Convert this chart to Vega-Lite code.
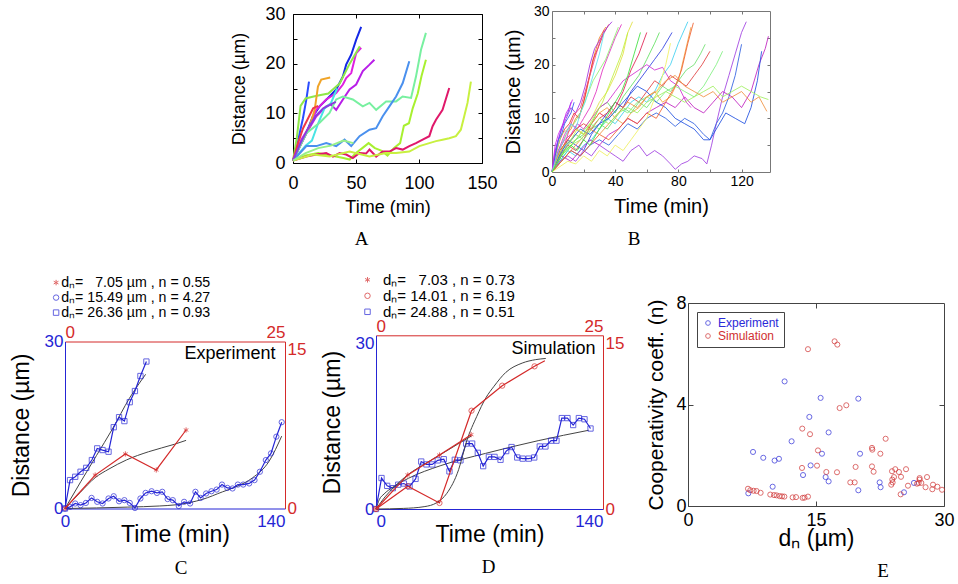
{
"$schema": "https://vega.github.io/schema/vega-lite/v6.json",
"background": "white",
"padding": {"left": 10, "top": 3, "right": 0, "bottom": 0},
"config": {
  "font": "Liberation Sans",
  "view": {"stroke": null},
  "axis": {"grid": false, "labelFont": "Liberation Sans", "titleFont": "Liberation Sans", "titleFontWeight": "normal", "labelColor": "black", "titleColor": "black", "tickColor": "black", "domainColor": "black"},
  "legend": {"labelFont": "Liberation Sans"},
  "title": {"font": "Liberation Serif", "fontWeight": "normal", "fontSize": 19, "color": "black"}
},
"datasets": {
"A": [
{"s":"a01","t":0,"d":0.5},{"s":"a01","t":6.6,"d":4},{"s":"a01","t":10.6,"d":6},{"s":"a01","t":15.8,"d":9.4},{"s":"a01","t":21.1,"d":11.4},{"s":"a01","t":29,"d":13.4},{"s":"a01","t":34.3,"d":14.8},{"s":"a01","t":39.6,"d":17.4},{"s":"a01","t":42.2,"d":19.8},{"s":"a01","t":46.2,"d":21.8},{"s":"a01","t":50.1,"d":24.8},{"s":"a01","t":54.1,"d":27.4},
{"s":"a02","t":0,"d":0.5},{"s":"a02","t":3,"d":3},{"s":"a02","t":5.3,"d":6},{"s":"a02","t":7.9,"d":9},{"s":"a02","t":10.6,"d":12.8},{"s":"a02","t":12.7,"d":16.4},
{"s":"a03","t":0,"d":0.5},{"s":"a03","t":6.6,"d":4.7},{"s":"a03","t":13.2,"d":7.4},{"s":"a03","t":18.5,"d":10.7},{"s":"a03","t":26.4,"d":12.8},{"s":"a03","t":34.3,"d":14.1},{"s":"a03","t":39.6,"d":15.8},{"s":"a03","t":42.2,"d":17.1},{"s":"a03","t":46.2,"d":18.1},{"s":"a03","t":50.1,"d":22.1},{"s":"a03","t":54.1,"d":23.2},
{"s":"a04","t":0,"d":0.5},{"s":"a04","t":3,"d":5},{"s":"a04","t":6,"d":11.5},{"s":"a04","t":10,"d":13},{"s":"a04","t":18,"d":13.5},{"s":"a04","t":28,"d":14},{"s":"a04","t":37,"d":16},{"s":"a04","t":45,"d":20},{"s":"a04","t":53,"d":23.5},
{"s":"a05","t":0,"d":0.5},{"s":"a05","t":10.6,"d":6},{"s":"a05","t":18.5,"d":9.4},{"s":"a05","t":26.4,"d":11.4},{"s":"a05","t":30,"d":11.8},{"s":"a05","t":34.3,"d":10.7},{"s":"a05","t":39.6,"d":12.8},{"s":"a05","t":44.9,"d":14.8},{"s":"a05","t":50.1,"d":15.8},{"s":"a05","t":55.4,"d":18.5},{"s":"a05","t":60.7,"d":19.8},{"s":"a05","t":64.6,"d":20.8},
{"s":"a06","t":0,"d":0.5},{"s":"a06","t":7.9,"d":4.7},{"s":"a06","t":13.2,"d":7.4},{"s":"a06","t":17.2,"d":10.7},{"s":"a06","t":19.8,"d":15.4},{"s":"a06","t":22.4,"d":16.8},{"s":"a06","t":29.5,"d":17.2},
{"s":"a07","t":0,"d":0.5},{"s":"a07","t":5,"d":2},{"s":"a07","t":10,"d":3.5},{"s":"a07","t":15,"d":4.5},{"s":"a07","t":20,"d":8},{"s":"a07","t":25,"d":11},{"s":"a07","t":30,"d":12},{"s":"a07","t":35,"d":15},
{"s":"a08","t":0,"d":0.5},{"s":"a08","t":10.6,"d":6},{"s":"a08","t":21.1,"d":8.1},{"s":"a08","t":29,"d":10.1},{"s":"a08","t":34.3,"d":12.8},{"s":"a08","t":39.6,"d":13.4},{"s":"a08","t":47.5,"d":12.8},{"s":"a08","t":55.4,"d":11.4},{"s":"a08","t":60.7,"d":12.1},{"s":"a08","t":66,"d":10.7},{"s":"a08","t":73.9,"d":12.4},{"s":"a08","t":81.8,"d":12.4},{"s":"a08","t":87,"d":13.4},{"s":"a08","t":93.7,"d":13.1},{"s":"a08","t":97.6,"d":17.4},{"s":"a08","t":101.6,"d":22.8},{"s":"a08","t":105.5,"d":26.2},
{"s":"a09","t":0,"d":0.5},{"s":"a09","t":10.6,"d":3.4},{"s":"a09","t":18.5,"d":3.4},{"s":"a09","t":26.4,"d":4},{"s":"a09","t":34.3,"d":3.4},{"s":"a09","t":40.9,"d":4.7},{"s":"a09","t":46.2,"d":3.4},{"s":"a09","t":52.8,"d":5.4},{"s":"a09","t":60.7,"d":6.7},{"s":"a09","t":66,"d":7},{"s":"a09","t":71.2,"d":9.4},{"s":"a09","t":76.5,"d":11.4},{"s":"a09","t":81.8,"d":13.4},{"s":"a09","t":87.1,"d":16.1},{"s":"a09","t":92.3,"d":20.5},
{"s":"a10","t":0,"d":0.5},{"s":"a10","t":10,"d":1.5},{"s":"a10","t":20,"d":2},{"s":"a10","t":30,"d":1.5},{"s":"a10","t":40,"d":1},{"s":"a10","t":45,"d":0.7},{"s":"a10","t":50,"d":2},{"s":"a10","t":55,"d":3},{"s":"a10","t":60,"d":4},{"s":"a10","t":65,"d":3},{"s":"a10","t":70,"d":2.5},{"s":"a10","t":75,"d":1.5},{"s":"a10","t":80,"d":3},{"s":"a10","t":85,"d":4},{"s":"a10","t":88,"d":7.5},{"s":"a10","t":92,"d":8},{"s":"a10","t":95,"d":11},{"s":"a10","t":99,"d":14},{"s":"a10","t":102,"d":17.5},{"s":"a10","t":105.5,"d":20.8},
{"s":"a11","t":0,"d":0.5},{"s":"a11","t":10.6,"d":1.3},{"s":"a11","t":18.5,"d":1.7},{"s":"a11","t":26.4,"d":2},{"s":"a11","t":31.7,"d":1.3},{"s":"a11","t":37,"d":2},{"s":"a11","t":42.2,"d":1.7},{"s":"a11","t":47.5,"d":1},{"s":"a11","t":52.8,"d":2},{"s":"a11","t":58,"d":1.9},{"s":"a11","t":60.7,"d":2.7},{"s":"a11","t":66,"d":1.3},{"s":"a11","t":71.2,"d":2.3},{"s":"a11","t":76.5,"d":2.3},{"s":"a11","t":81.8,"d":3},{"s":"a11","t":87.1,"d":2.7},{"s":"a11","t":92.3,"d":3.4},{"s":"a11","t":97.6,"d":4},{"s":"a11","t":102.9,"d":4.7},{"s":"a11","t":108.2,"d":5.4},{"s":"a11","t":110.8,"d":7.4},{"s":"a11","t":113.5,"d":8.7},{"s":"a11","t":118.7,"d":10.7},{"s":"a11","t":124,"d":15.1},
{"s":"a12","t":0,"d":0.5},{"s":"a12","t":15.8,"d":1.7},{"s":"a12","t":29,"d":1.3},{"s":"a12","t":44.9,"d":2.3},{"s":"a12","t":60.7,"d":1.3},{"s":"a12","t":73.9,"d":2},{"s":"a12","t":81.8,"d":2},{"s":"a12","t":92.3,"d":2.3},{"s":"a12","t":100.3,"d":3.4},{"s":"a12","t":108.2,"d":4},{"s":"a12","t":113.5,"d":4.4},{"s":"a12","t":118.7,"d":4.7},{"s":"a12","t":124,"d":5},{"s":"a12","t":129.3,"d":5.4},{"s":"a12","t":133.2,"d":6.7},{"s":"a12","t":135.9,"d":9.4},{"s":"a12","t":138.5,"d":12.1},{"s":"a12","t":141.2,"d":16.4},
{"s":"a13","t":0,"d":0.5},{"s":"a13","t":4,"d":4},{"s":"a13","t":8,"d":7},{"s":"a13","t":12,"d":9},{"s":"a13","t":16,"d":11},{"s":"a13","t":20,"d":11.5},
{"s":"a14","t":0,"d":0.5},{"s":"a14","t":6,"d":4},{"s":"a14","t":12,"d":7},{"s":"a14","t":18,"d":9.5},{"s":"a14","t":24,"d":11},{"s":"a14","t":30,"d":11.8},{"s":"a14","t":34,"d":12.3},
{"s":"a15","t":0,"d":0.5},{"s":"a15","t":10,"d":2},{"s":"a15","t":20,"d":3},{"s":"a15","t":30,"d":3.5},{"s":"a15","t":40,"d":4.5},{"s":"a15","t":48,"d":4}
],
"B": [
{"s":"b01","t":0,"d":0},{"s":"b01","t":3,"d":3},{"s":"b01","t":6,"d":5},{"s":"b01","t":9,"d":7},{"s":"b01","t":12,"d":8},{"s":"b01","t":15,"d":10},{"s":"b01","t":18,"d":11},{"s":"b01","t":21,"d":14},{"s":"b01","t":24,"d":18},{"s":"b01","t":27,"d":22},{"s":"b01","t":30,"d":25},{"s":"b01","t":34,"d":27},
{"s":"b02","t":0,"d":0},{"s":"b02","t":2,"d":3},{"s":"b02","t":5,"d":6},{"s":"b02","t":8,"d":8},{"s":"b02","t":11,"d":9},{"s":"b02","t":14,"d":11},{"s":"b02","t":17,"d":10},{"s":"b02","t":20,"d":13},{"s":"b02","t":23,"d":17},{"s":"b02","t":26,"d":21},{"s":"b02","t":29,"d":23},{"s":"b02","t":33,"d":26},{"s":"b02","t":36,"d":27.5},
{"s":"b03","t":0,"d":0},{"s":"b03","t":3,"d":5},{"s":"b03","t":6,"d":8},{"s":"b03","t":9,"d":10},{"s":"b03","t":12,"d":12},{"s":"b03","t":15,"d":11},{"s":"b03","t":18,"d":13},{"s":"b03","t":21,"d":16},{"s":"b03","t":24,"d":20},{"s":"b03","t":27,"d":23},{"s":"b03","t":31,"d":25},{"s":"b03","t":35,"d":27},{"s":"b03","t":38,"d":28},
{"s":"b04","t":0,"d":0},{"s":"b04","t":4,"d":4},{"s":"b04","t":8,"d":7},{"s":"b04","t":12,"d":9},{"s":"b04","t":16,"d":8},{"s":"b04","t":20,"d":10},{"s":"b04","t":24,"d":12},{"s":"b04","t":28,"d":15},{"s":"b04","t":32,"d":19},{"s":"b04","t":36,"d":22},{"s":"b04","t":40,"d":25},{"s":"b04","t":44,"d":27.5},
{"s":"b05","t":0,"d":0},{"s":"b05","t":3,"d":2},{"s":"b05","t":6,"d":4},{"s":"b05","t":9,"d":6},{"s":"b05","t":12,"d":9},{"s":"b05","t":15,"d":11},{"s":"b05","t":18,"d":12},{"s":"b05","t":21,"d":15},{"s":"b05","t":24,"d":18},{"s":"b05","t":27,"d":21},{"s":"b05","t":30,"d":24},{"s":"b05","t":33,"d":26.5},
{"s":"b06","t":0,"d":0},{"s":"b06","t":3,"d":4},{"s":"b06","t":6,"d":7},{"s":"b06","t":10,"d":8},{"s":"b06","t":14,"d":9},{"s":"b06","t":18,"d":11},{"s":"b06","t":22,"d":14},{"s":"b06","t":26,"d":17},{"s":"b06","t":30,"d":19},{"s":"b06","t":34,"d":21},{"s":"b06","t":38,"d":24},{"s":"b06","t":42,"d":27},
{"s":"b07","t":0,"d":0},{"s":"b07","t":5,"d":3},{"s":"b07","t":10,"d":5},{"s":"b07","t":15,"d":6},{"s":"b07","t":20,"d":8},{"s":"b07","t":25,"d":10},{"s":"b07","t":30,"d":13},{"s":"b07","t":35,"d":15},{"s":"b07","t":40,"d":18},{"s":"b07","t":45,"d":22},{"s":"b07","t":48,"d":26},{"s":"b07","t":51,"d":28},
{"s":"b08","t":0,"d":0},{"s":"b08","t":2,"d":3},{"s":"b08","t":4,"d":6},{"s":"b08","t":6,"d":7},{"s":"b08","t":8,"d":9},{"s":"b08","t":10,"d":10},{"s":"b08","t":12,"d":11},{"s":"b08","t":14,"d":13},
{"s":"b09","t":0,"d":0},{"s":"b09","t":2,"d":4},{"s":"b09","t":4,"d":6},{"s":"b09","t":6,"d":8},{"s":"b09","t":8,"d":10},{"s":"b09","t":10,"d":11},{"s":"b09","t":12,"d":13},
{"s":"b10","t":0,"d":0},{"s":"b10","t":2,"d":5},{"s":"b10","t":4,"d":7},{"s":"b10","t":7,"d":9},{"s":"b10","t":9,"d":11},{"s":"b10","t":11,"d":12},{"s":"b10","t":13,"d":13.5},
{"s":"b11","t":0,"d":0},{"s":"b11","t":5,"d":3},{"s":"b11","t":10,"d":5},{"s":"b11","t":15,"d":4},{"s":"b11","t":20,"d":6},{"s":"b11","t":25,"d":9},{"s":"b11","t":30,"d":11},{"s":"b11","t":35,"d":10},{"s":"b11","t":40,"d":12},{"s":"b11","t":45,"d":15},{"s":"b11","t":50,"d":19},{"s":"b11","t":55,"d":22},{"s":"b11","t":60,"d":26},
{"s":"b12","t":0,"d":0},{"s":"b12","t":5,"d":2},{"s":"b12","t":10,"d":4},{"s":"b12","t":15,"d":6},{"s":"b12","t":20,"d":7},{"s":"b12","t":25,"d":9},{"s":"b12","t":30,"d":12},{"s":"b12","t":35,"d":13},{"s":"b12","t":40,"d":11},{"s":"b12","t":45,"d":14},{"s":"b12","t":50,"d":16},{"s":"b12","t":55,"d":18},{"s":"b12","t":60,"d":21},{"s":"b12","t":65,"d":24},{"s":"b12","t":68,"d":26},
{"s":"b13","t":0,"d":0},{"s":"b13","t":5,"d":3},{"s":"b13","t":10,"d":6},{"s":"b13","t":15,"d":5},{"s":"b13","t":20,"d":4},{"s":"b13","t":25,"d":7},{"s":"b13","t":30,"d":9},{"s":"b13","t":35,"d":11},{"s":"b13","t":40,"d":13},{"s":"b13","t":45,"d":12},{"s":"b13","t":50,"d":15},{"s":"b13","t":55,"d":17},{"s":"b13","t":60,"d":19},{"s":"b13","t":65,"d":21},{"s":"b13","t":70,"d":23},{"s":"b13","t":76,"d":26},
{"s":"b14","t":0,"d":0},{"s":"b14","t":5,"d":2},{"s":"b14","t":10,"d":4},{"s":"b14","t":15,"d":3},{"s":"b14","t":20,"d":5},{"s":"b14","t":25,"d":6},{"s":"b14","t":30,"d":8},{"s":"b14","t":35,"d":10},{"s":"b14","t":40,"d":9},{"s":"b14","t":45,"d":11},{"s":"b14","t":50,"d":13},{"s":"b14","t":55,"d":14},{"s":"b14","t":60,"d":13},{"s":"b14","t":65,"d":15},{"s":"b14","t":70,"d":18},{"s":"b14","t":75,"d":20},{"s":"b14","t":80,"d":24},{"s":"b14","t":86,"d":28},
{"s":"b15","t":0,"d":0},{"s":"b15","t":5,"d":4},{"s":"b15","t":10,"d":6},{"s":"b15","t":15,"d":8},{"s":"b15","t":20,"d":7},{"s":"b15","t":25,"d":9},{"s":"b15","t":30,"d":11},{"s":"b15","t":35,"d":12},{"s":"b15","t":40,"d":10},{"s":"b15","t":45,"d":9},{"s":"b15","t":50,"d":11},{"s":"b15","t":55,"d":12},{"s":"b15","t":60,"d":14},{"s":"b15","t":65,"d":15},{"s":"b15","t":70,"d":13},{"s":"b15","t":75,"d":14},{"s":"b15","t":80,"d":17},{"s":"b15","t":84,"d":22},{"s":"b15","t":88,"d":27},
{"s":"b16","t":0,"d":0},{"s":"b16","t":4,"d":4},{"s":"b16","t":8,"d":6},{"s":"b16","t":12,"d":7},{"s":"b16","t":16,"d":9},{"s":"b16","t":20,"d":8},{"s":"b16","t":25,"d":10},{"s":"b16","t":30,"d":12},{"s":"b16","t":35,"d":13},{"s":"b16","t":40,"d":15},{"s":"b16","t":45,"d":17},{"s":"b16","t":50,"d":18},{"s":"b16","t":55,"d":19},{"s":"b16","t":60,"d":20},{"s":"b16","t":65,"d":19},{"s":"b16","t":70,"d":19.5},{"s":"b16","t":75,"d":17},{"s":"b16","t":80,"d":16},{"s":"b16","t":85,"d":13},{"s":"b16","t":88,"d":12},
{"s":"b17","t":0,"d":0},{"s":"b17","t":5,"d":2},{"s":"b17","t":10,"d":3},{"s":"b17","t":15,"d":2},{"s":"b17","t":20,"d":4},{"s":"b17","t":25,"d":3},{"s":"b17","t":30,"d":5},{"s":"b17","t":35,"d":4},{"s":"b17","t":40,"d":3},{"s":"b17","t":45,"d":2},{"s":"b17","t":50,"d":4},{"s":"b17","t":55,"d":5},{"s":"b17","t":60,"d":3},{"s":"b17","t":65,"d":4},{"s":"b17","t":70,"d":3},{"s":"b17","t":75,"d":1.5},{"s":"b17","t":78,"d":0.5},{"s":"b17","t":82,"d":1.5},{"s":"b17","t":86,"d":2},{"s":"b17","t":90,"d":3},{"s":"b17","t":95,"d":2.5},{"s":"b17","t":98,"d":1.5},{"s":"b17","t":101,"d":5},{"s":"b17","t":104,"d":9},{"s":"b17","t":108,"d":14},{"s":"b17","t":112,"d":18},{"s":"b17","t":116,"d":22},{"s":"b17","t":120,"d":26},{"s":"b17","t":123,"d":28},
{"s":"b18","t":0,"d":0},{"s":"b18","t":5,"d":3},{"s":"b18","t":10,"d":5},{"s":"b18","t":15,"d":7},{"s":"b18","t":20,"d":6},{"s":"b18","t":25,"d":8},{"s":"b18","t":30,"d":9},{"s":"b18","t":35,"d":8},{"s":"b18","t":40,"d":10},{"s":"b18","t":45,"d":12},{"s":"b18","t":50,"d":11},{"s":"b18","t":55,"d":13},{"s":"b18","t":60,"d":12},{"s":"b18","t":65,"d":14},{"s":"b18","t":70,"d":16},{"s":"b18","t":75,"d":15},{"s":"b18","t":80,"d":17},{"s":"b18","t":85,"d":19},{"s":"b18","t":90,"d":20},{"s":"b18","t":94,"d":22},{"s":"b18","t":97,"d":23.8},
{"s":"b19","t":0,"d":0},{"s":"b19","t":5,"d":4},{"s":"b19","t":10,"d":6},{"s":"b19","t":15,"d":8},{"s":"b19","t":20,"d":9},{"s":"b19","t":25,"d":8},{"s":"b19","t":30,"d":10},{"s":"b19","t":35,"d":11},{"s":"b19","t":40,"d":13},{"s":"b19","t":45,"d":12},{"s":"b19","t":50,"d":14},{"s":"b19","t":55,"d":13},{"s":"b19","t":60,"d":15},{"s":"b19","t":65,"d":17},{"s":"b19","t":70,"d":16},{"s":"b19","t":75,"d":18},{"s":"b19","t":80,"d":17},{"s":"b19","t":85,"d":16},{"s":"b19","t":90,"d":18},{"s":"b19","t":95,"d":20},{"s":"b19","t":100,"d":22.5},
{"s":"b20","t":0,"d":0},{"s":"b20","t":6,"d":3},{"s":"b20","t":12,"d":5},{"s":"b20","t":18,"d":7},{"s":"b20","t":24,"d":9},{"s":"b20","t":30,"d":8},{"s":"b20","t":36,"d":10},{"s":"b20","t":42,"d":12},{"s":"b20","t":48,"d":11},{"s":"b20","t":54,"d":13},{"s":"b20","t":60,"d":14},{"s":"b20","t":66,"d":13},{"s":"b20","t":72,"d":15},{"s":"b20","t":78,"d":16},{"s":"b20","t":84,"d":15},{"s":"b20","t":90,"d":14},{"s":"b20","t":96,"d":16},{"s":"b20","t":100,"d":18},{"s":"b20","t":104,"d":20},{"s":"b20","t":108,"d":22.5},
{"s":"b21","t":0,"d":0},{"s":"b21","t":6,"d":2},{"s":"b21","t":12,"d":4},{"s":"b21","t":18,"d":3},{"s":"b21","t":24,"d":5},{"s":"b21","t":30,"d":6},{"s":"b21","t":36,"d":5},{"s":"b21","t":42,"d":7},{"s":"b21","t":48,"d":9},{"s":"b21","t":54,"d":8},{"s":"b21","t":60,"d":10},{"s":"b21","t":66,"d":11},{"s":"b21","t":72,"d":10},{"s":"b21","t":78,"d":8.5},{"s":"b21","t":84,"d":10},{"s":"b21","t":90,"d":9},{"s":"b21","t":96,"d":7},{"s":"b21","t":100,"d":6},{"s":"b21","t":104,"d":9},{"s":"b21","t":108,"d":11},{"s":"b21","t":112,"d":14},{"s":"b21","t":116,"d":18},{"s":"b21","t":120,"d":23.8},
{"s":"b22","t":0,"d":0},{"s":"b22","t":6,"d":3},{"s":"b22","t":12,"d":2},{"s":"b22","t":18,"d":4},{"s":"b22","t":24,"d":6},{"s":"b22","t":30,"d":5},{"s":"b22","t":36,"d":7},{"s":"b22","t":42,"d":8},{"s":"b22","t":48,"d":10},{"s":"b22","t":54,"d":9},{"s":"b22","t":60,"d":11},{"s":"b22","t":66,"d":12},{"s":"b22","t":72,"d":13},{"s":"b22","t":78,"d":12},{"s":"b22","t":84,"d":14},{"s":"b22","t":90,"d":12},{"s":"b22","t":96,"d":11},{"s":"b22","t":102,"d":13},{"s":"b22","t":108,"d":15},{"s":"b22","t":114,"d":14},{"s":"b22","t":120,"d":12},{"s":"b22","t":126,"d":15},{"s":"b22","t":131,"d":20},{"s":"b22","t":135,"d":23},{"s":"b22","t":137,"d":25.3},
{"s":"b23","t":0,"d":0},{"s":"b23","t":6,"d":4},{"s":"b23","t":12,"d":6},{"s":"b23","t":18,"d":8},{"s":"b23","t":24,"d":7},{"s":"b23","t":30,"d":9},{"s":"b23","t":36,"d":10},{"s":"b23","t":42,"d":12},{"s":"b23","t":48,"d":14},{"s":"b23","t":54,"d":16},{"s":"b23","t":60,"d":15},{"s":"b23","t":66,"d":13},{"s":"b23","t":72,"d":12},{"s":"b23","t":78,"d":10},{"s":"b23","t":84,"d":9},{"s":"b23","t":90,"d":8},{"s":"b23","t":96,"d":6},{"s":"b23","t":100,"d":6},{"s":"b23","t":104,"d":8},{"s":"b23","t":110,"d":11},{"s":"b23","t":116,"d":10},{"s":"b23","t":122,"d":9},{"s":"b23","t":126,"d":12},{"s":"b23","t":130,"d":17},{"s":"b23","t":132.7,"d":22.5},
{"s":"b24","t":0,"d":0},{"s":"b24","t":6,"d":2},{"s":"b24","t":12,"d":4},{"s":"b24","t":18,"d":6},{"s":"b24","t":24,"d":8},{"s":"b24","t":30,"d":7},{"s":"b24","t":36,"d":9},{"s":"b24","t":42,"d":11},{"s":"b24","t":48,"d":13},{"s":"b24","t":54,"d":12},{"s":"b24","t":60,"d":14},{"s":"b24","t":66,"d":15},{"s":"b24","t":72,"d":17},{"s":"b24","t":78,"d":18},{"s":"b24","t":84,"d":16},{"s":"b24","t":90,"d":15},{"s":"b24","t":96,"d":14},{"s":"b24","t":102,"d":15},{"s":"b24","t":108,"d":13},{"s":"b24","t":114,"d":14},{"s":"b24","t":120,"d":15},{"s":"b24","t":126,"d":13},{"s":"b24","t":131,"d":14},{"s":"b24","t":136,"d":11.3},
{"s":"b25","t":0,"d":0},{"s":"b25","t":6,"d":3},{"s":"b25","t":12,"d":5},{"s":"b25","t":18,"d":6},{"s":"b25","t":24,"d":8},{"s":"b25","t":30,"d":10},{"s":"b25","t":36,"d":9},{"s":"b25","t":42,"d":11},{"s":"b25","t":48,"d":12},{"s":"b25","t":54,"d":11},{"s":"b25","t":60,"d":13},{"s":"b25","t":66,"d":14},{"s":"b25","t":72,"d":15},{"s":"b25","t":78,"d":14},{"s":"b25","t":84,"d":13},{"s":"b25","t":90,"d":14},{"s":"b25","t":96,"d":15},{"s":"b25","t":102,"d":16},{"s":"b25","t":108,"d":14},{"s":"b25","t":114,"d":15},{"s":"b25","t":120,"d":16},{"s":"b25","t":126,"d":15},{"s":"b25","t":132,"d":14},{"s":"b25","t":137,"d":13.5},
{"s":"b26","t":0,"d":0},{"s":"b26","t":4,"d":3},{"s":"b26","t":8,"d":5},{"s":"b26","t":12,"d":6},{"s":"b26","t":16,"d":8},{"s":"b26","t":20,"d":7},{"s":"b26","t":24,"d":9},{"s":"b26","t":28,"d":11},{"s":"b26","t":32,"d":13},{"s":"b26","t":36,"d":16},{"s":"b26","t":40,"d":19},{"s":"b26","t":44,"d":22},{"s":"b26","t":48,"d":26},
{"s":"b27","t":0,"d":0},{"s":"b27","t":3,"d":3},{"s":"b27","t":6,"d":5},{"s":"b27","t":9,"d":7},{"s":"b27","t":12,"d":9},{"s":"b27","t":15,"d":8},{"s":"b27","t":18,"d":11},{"s":"b27","t":21,"d":13},{"s":"b27","t":24,"d":16},{"s":"b27","t":27,"d":19},{"s":"b27","t":30,"d":22},{"s":"b27","t":33,"d":26},
{"s":"b28","t":0,"d":0},{"s":"b28","t":6,"d":2},{"s":"b28","t":12,"d":4},{"s":"b28","t":18,"d":3},{"s":"b28","t":24,"d":5},{"s":"b28","t":30,"d":7},{"s":"b28","t":36,"d":6},{"s":"b28","t":42,"d":8},{"s":"b28","t":48,"d":10},{"s":"b28","t":54,"d":9},{"s":"b28","t":60,"d":11},{"s":"b28","t":66,"d":10},{"s":"b28","t":72,"d":13},{"s":"b28","t":78,"d":16},{"s":"b28","t":82,"d":19},{"s":"b28","t":86,"d":24},{"s":"b28","t":89.5,"d":27.8},
{"s":"b29","t":0,"d":0},{"s":"b29","t":5,"d":1},{"s":"b29","t":10,"d":2},{"s":"b29","t":15,"d":1.5},{"s":"b29","t":20,"d":3},{"s":"b29","t":25,"d":2},{"s":"b29","t":30,"d":4},{"s":"b29","t":35,"d":3},{"s":"b29","t":40,"d":5},{"s":"b29","t":45,"d":4},{"s":"b29","t":50,"d":6},{"s":"b29","t":55,"d":8},{"s":"b29","t":60,"d":10},{"s":"b29","t":64,"d":13},{"s":"b29","t":68,"d":16},{"s":"b29","t":72,"d":20},{"s":"b29","t":75,"d":24},
{"s":"b30","t":0,"d":0},{"s":"b30","t":4,"d":2},{"s":"b30","t":8,"d":4},{"s":"b30","t":12,"d":5},{"s":"b30","t":16,"d":4},{"s":"b30","t":20,"d":6},{"s":"b30","t":24,"d":5},{"s":"b30","t":28,"d":7},{"s":"b30","t":32,"d":9},{"s":"b30","t":36,"d":11},{"s":"b30","t":40,"d":13},{"s":"b30","t":44,"d":15},{"s":"b30","t":48,"d":18},{"s":"b30","t":52,"d":22},{"s":"b30","t":56,"d":26}
],
"Cb": [
{"s":"sq","k":"obs","t":0,"d":0},{"s":"sq","k":"obs","t":3.2,"d":5.1},{"s":"sq","k":"obs","t":6.5,"d":5.7},{"s":"sq","k":"obs","t":9.9,"d":6.6},{"s":"sq","k":"obs","t":13.5,"d":7.3},{"s":"sq","k":"obs","t":17.1,"d":8.7},{"s":"sq","k":"obs","t":20.5,"d":10.8},{"s":"sq","k":"obs","t":23.9,"d":10.5},{"s":"sq","k":"obs","t":27.7,"d":10.2},{"s":"sq","k":"obs","t":31.0,"d":14.6},{"s":"sq","k":"obs","t":34.4,"d":16.4},{"s":"sq","k":"obs","t":37.8,"d":15.7},{"s":"sq","k":"obs","t":41.2,"d":19.1},{"s":"sq","k":"obs","t":44.5,"d":21.1},{"s":"sq","k":"obs","t":48.0,"d":23.8},{"s":"sq","k":"obs","t":51.8,"d":26.4},
{"s":"sq","k":"fit","t":0,"d":0},{"s":"sq","k":"fit","t":10,"d":4.8},{"s":"sq","k":"fit","t":20,"d":9.5},{"s":"sq","k":"fit","t":30,"d":14.2},{"s":"sq","k":"fit","t":41,"d":19.8},{"s":"sq","k":"fit","t":51.3,"d":24.1},
{"s":"circ","k":"obs","t":0,"d":0},{"s":"circ","k":"obs","t":3.2,"d":0.3},{"s":"circ","k":"obs","t":6.5,"d":0.9},{"s":"circ","k":"obs","t":9.9,"d":0.6},{"s":"circ","k":"obs","t":13.3,"d":1.0},{"s":"circ","k":"obs","t":16.9,"d":1.9},{"s":"circ","k":"obs","t":20.5,"d":1.2},{"s":"circ","k":"obs","t":23.9,"d":0.9},{"s":"circ","k":"obs","t":27.7,"d":1.8},{"s":"circ","k":"obs","t":31.0,"d":2.2},{"s":"circ","k":"obs","t":34.4,"d":1.3},{"s":"circ","k":"obs","t":37.8,"d":1.5},{"s":"circ","k":"obs","t":41.2,"d":1.0},{"s":"circ","k":"obs","t":44.5,"d":0.1},{"s":"circ","k":"obs","t":48.0,"d":1.8},{"s":"circ","k":"obs","t":51.3,"d":2.8},{"s":"circ","k":"obs","t":55.1,"d":3.1},{"s":"circ","k":"obs","t":58.5,"d":2.8},{"s":"circ","k":"obs","t":61.9,"d":3.0},{"s":"circ","k":"obs","t":65.3,"d":1.7},{"s":"circ","k":"obs","t":68.6,"d":1.5},{"s":"circ","k":"obs","t":72.4,"d":0.45},{"s":"circ","k":"obs","t":75.8,"d":1.2},{"s":"circ","k":"obs","t":79.6,"d":0.9},{"s":"circ","k":"obs","t":83.0,"d":3.0},{"s":"circ","k":"obs","t":86.3,"d":1.9},{"s":"circ","k":"obs","t":89.8,"d":2.7},{"s":"circ","k":"obs","t":93.2,"d":3.1},{"s":"circ","k":"obs","t":96.5,"d":3.4},{"s":"circ","k":"obs","t":99.9,"d":4.3},{"s":"circ","k":"obs","t":103.3,"d":3.7},{"s":"circ","k":"obs","t":106.6,"d":3.6},{"s":"circ","k":"obs","t":110.0,"d":4.3},{"s":"circ","k":"obs","t":113.4,"d":4.3},{"s":"circ","k":"obs","t":117.2,"d":4.5},{"s":"circ","k":"obs","t":120.6,"d":5.1},{"s":"circ","k":"obs","t":124.0,"d":6.6},{"s":"circ","k":"obs","t":127.8,"d":8.7},{"s":"circ","k":"obs","t":131.1,"d":9.9},{"s":"circ","k":"obs","t":134.5,"d":12.9},{"s":"circ","k":"obs","t":137.9,"d":15.5},
{"s":"circ","k":"fit","t":0,"d":0},{"s":"circ","k":"fit","t":20,"d":0.1},{"s":"circ","k":"fit","t":40,"d":0.25},{"s":"circ","k":"fit","t":60,"d":0.45},{"s":"circ","k":"fit","t":70,"d":0.65},{"s":"circ","k":"fit","t":80,"d":1.1},{"s":"circ","k":"fit","t":87.6,"d":1.65},{"s":"circ","k":"fit","t":100.3,"d":3.0},{"s":"circ","k":"fit","t":108.8,"d":3.9},{"s":"circ","k":"fit","t":119.3,"d":5.5},{"s":"circ","k":"fit","t":129.9,"d":8.5},{"s":"circ","k":"fit","t":137.9,"d":13.0}
],
"Cr": [
{"s":"star","k":"obs","t":0,"d":0},{"s":"star","k":"obs","t":3.43,"d":3.0},{"s":"star","k":"obs","t":6.86,"d":4.9},{"s":"star","k":"obs","t":10.37,"d":3.46},{"s":"star","k":"obs","t":13.76,"d":7.05},
{"s":"star","k":"fit","t":0,"d":0},{"s":"star","k":"fit","t":1.7,"d":1.42},{"s":"star","k":"fit","t":3.43,"d":2.77},{"s":"star","k":"fit","t":5,"d":3.55},{"s":"star","k":"fit","t":6.98,"d":4.36},{"s":"star","k":"fit","t":9.5,"d":5.1},{"s":"star","k":"fit","t":12.44,"d":5.77},{"s":"star","k":"fit","t":13.76,"d":6.12}
],
"Db": [
{"s":"sq","k":"obs","t":0,"d":0},{"s":"sq","k":"obs","t":3.4,"d":5.35},{"s":"sq","k":"obs","t":6.9,"d":4.0},{"s":"sq","k":"obs","t":10.4,"d":3.6},{"s":"sq","k":"obs","t":13.7,"d":4.2},{"s":"sq","k":"obs","t":17.2,"d":4.4},{"s":"sq","k":"obs","t":20.7,"d":3.9},{"s":"sq","k":"obs","t":24.4,"d":5.2},{"s":"sq","k":"obs","t":27.9,"d":8.2},{"s":"sq","k":"obs","t":31.1,"d":7.7},{"s":"sq","k":"obs","t":34.7,"d":7.7},{"s":"sq","k":"obs","t":38.1,"d":8.4},{"s":"sq","k":"obs","t":41.8,"d":8.6},{"s":"sq","k":"obs","t":45.3,"d":6.5},{"s":"sq","k":"obs","t":48.6,"d":8.5},{"s":"sq","k":"obs","t":52.1,"d":8.4},{"s":"sq","k":"obs","t":55.6,"d":11.3},{"s":"sq","k":"obs","t":59.3,"d":11.3},{"s":"sq","k":"obs","t":62.8,"d":9.7},{"s":"sq","k":"obs","t":66.1,"d":7.4},{"s":"sq","k":"obs","t":69.6,"d":9.0},{"s":"sq","k":"obs","t":73.1,"d":9.0},{"s":"sq","k":"obs","t":76.8,"d":8.5},{"s":"sq","k":"obs","t":80.3,"d":10.0},{"s":"sq","k":"obs","t":83.6,"d":10.7},{"s":"sq","k":"obs","t":87.1,"d":8.9},{"s":"sq","k":"obs","t":90.5,"d":8.7},{"s":"sq","k":"obs","t":94.2,"d":8.7},{"s":"sq","k":"obs","t":97.6,"d":8.9},{"s":"sq","k":"obs","t":101.0,"d":10.8},{"s":"sq","k":"obs","t":104.5,"d":10.8},{"s":"sq","k":"obs","t":108.0,"d":11.8},{"s":"sq","k":"obs","t":111.3,"d":11.8},{"s":"sq","k":"obs","t":114.6,"d":15.7},{"s":"sq","k":"obs","t":118.1,"d":15.7},{"s":"sq","k":"obs","t":121.6,"d":14.5},{"s":"sq","k":"obs","t":125.1,"d":15.7},{"s":"sq","k":"obs","t":128.6,"d":15.5},{"s":"sq","k":"obs","t":132.3,"d":13.9},
{"s":"sq","k":"fit","t":0,"d":0},{"s":"sq","k":"fit","t":2,"d":1.6},{"s":"sq","k":"fit","t":5,"d":2.6},{"s":"sq","k":"fit","t":10,"d":3.7},{"s":"sq","k":"fit","t":20,"d":5.3},{"s":"sq","k":"fit","t":40,"d":7.5},{"s":"sq","k":"fit","t":67.5,"d":9.6},{"s":"sq","k":"fit","t":100,"d":11.8},{"s":"sq","k":"fit","t":131.2,"d":13.6}
],
"Dr": [
{"s":"star","k":"obs","t":0,"d":0},{"s":"star","k":"obs","t":3.5,"d":2.94},{"s":"star","k":"obs","t":6.99,"d":4.66},{"s":"star","k":"obs","t":10.48,"d":6.42},
{"s":"star","k":"fit","t":0,"d":0},{"s":"star","k":"fit","t":1,"d":1.05},{"s":"star","k":"fit","t":2,"d":1.9},{"s":"star","k":"fit","t":3.5,"d":2.95},{"s":"star","k":"fit","t":5.5,"d":3.95},{"s":"star","k":"fit","t":7,"d":4.65},{"s":"star","k":"fit","t":9,"d":5.6},{"s":"star","k":"fit","t":10.5,"d":6.3},
{"s":"circ","k":"obs","t":0,"d":0},{"s":"circ","k":"obs","t":3.5,"d":1.96},{"s":"circ","k":"obs","t":6.99,"d":0.52},{"s":"circ","k":"obs","t":10.52,"d":8.49},{"s":"circ","k":"obs","t":13.9,"d":10.65},{"s":"circ","k":"obs","t":17.46,"d":12.32},{"s":"circ","k":"end","t":18.6,"d":12.8},
{"s":"circ","k":"fit","t":0,"d":0},{"s":"circ","k":"fit","t":3,"d":0.05},{"s":"circ","k":"fit","t":5.3,"d":0.2},{"s":"circ","k":"fit","t":6.7,"d":0.55},{"s":"circ","k":"fit","t":7.8,"d":1.35},{"s":"circ","k":"fit","t":9.1,"d":3.4},{"s":"circ","k":"fit","t":10,"d":5.9},{"s":"circ","k":"fit","t":11.1,"d":8.0},{"s":"circ","k":"fit","t":12.1,"d":9.6},{"s":"circ","k":"fit","t":13,"d":10.6},{"s":"circ","k":"fit","t":14.3,"d":11.8},{"s":"circ","k":"fit","t":16.1,"d":12.6},{"s":"circ","k":"fit","t":17.6,"d":12.9},{"s":"circ","k":"fit","t":18.7,"d":13.0}
],
"E": [
{"g":"Experiment","x":11.32,"y":4.91},{"g":"Experiment","x":14.22,"y":3.51},{"g":"Experiment","x":12.14,"y":2.55},{"g":"Experiment","x":7.62,"y":2.13},{"g":"Experiment","x":8.82,"y":1.90},{"g":"Experiment","x":10.15,"y":1.79},{"g":"Experiment","x":10.66,"y":1.86},{"g":"Experiment","x":14.37,"y":1.60},{"g":"Experiment","x":13.48,"y":1.22},{"g":"Experiment","x":9.92,"y":0.76},{"g":"Experiment","x":7.07,"y":0.50},{"g":"Experiment","x":15.54,"y":4.26},{"g":"Experiment","x":19.96,"y":4.23},{"g":"Experiment","x":16.48,"y":2.90},{"g":"Experiment","x":15.70,"y":2.06},{"g":"Experiment","x":20.16,"y":2.06},{"g":"Experiment","x":16.13,"y":1.14},{"g":"Experiment","x":16.48,"y":0.97},{"g":"Experiment","x":19.96,"y":0.62},{"g":"Experiment","x":22.46,"y":0.93},{"g":"Experiment","x":22.57,"y":0.74},{"g":"Experiment","x":25.31,"y":0.54},{"g":"Experiment","x":26.48,"y":0.91},
{"g":"Simulation","x":14.06,"y":6.18},{"g":"Simulation","x":13.39,"y":3.05},{"g":"Simulation","x":14.30,"y":2.83},{"g":"Simulation","x":13.36,"y":1.50},{"g":"Simulation","x":7.03,"y":0.68},{"g":"Simulation","x":7.30,"y":0.62},{"g":"Simulation","x":7.69,"y":0.60},{"g":"Simulation","x":8.04,"y":0.59},{"g":"Simulation","x":8.51,"y":0.52},{"g":"Simulation","x":9.64,"y":0.45},{"g":"Simulation","x":10.08,"y":0.43},{"g":"Simulation","x":10.38,"y":0.42},{"g":"Simulation","x":10.73,"y":0.39},{"g":"Simulation","x":11.02,"y":0.38},{"g":"Simulation","x":11.29,"y":0.37},{"g":"Simulation","x":12.26,"y":0.34},{"g":"Simulation","x":12.66,"y":0.35},{"g":"Simulation","x":13.43,"y":0.32},{"g":"Simulation","x":13.66,"y":0.33},{"g":"Simulation","x":14.06,"y":0.37},{"g":"Simulation","x":17.18,"y":6.49},{"g":"Simulation","x":17.50,"y":6.36},{"g":"Simulation","x":17.77,"y":3.86},{"g":"Simulation","x":18.55,"y":3.97},{"g":"Simulation","x":23.16,"y":2.65},{"g":"Simulation","x":21.56,"y":2.29},{"g":"Simulation","x":21.60,"y":2.22},{"g":"Simulation","x":22.54,"y":2.06},{"g":"Simulation","x":15.23,"y":2.19},{"g":"Simulation","x":15.12,"y":1.59},{"g":"Simulation","x":19.64,"y":1.54},{"g":"Simulation","x":21.56,"y":1.56},{"g":"Simulation","x":21.75,"y":1.35},{"g":"Simulation","x":16.21,"y":1.34},{"g":"Simulation","x":17.46,"y":1.33},{"g":"Simulation","x":19.02,"y":0.93},{"g":"Simulation","x":19.53,"y":0.93},{"g":"Simulation","x":23.91,"y":1.37},{"g":"Simulation","x":24.29,"y":1.45},{"g":"Simulation","x":24.72,"y":1.34},{"g":"Simulation","x":24.14,"y":1.14},{"g":"Simulation","x":23.94,"y":1.04},{"g":"Simulation","x":24.96,"y":1.15},{"g":"Simulation","x":25.55,"y":1.45},{"g":"Simulation","x":23.82,"y":0.84},{"g":"Simulation","x":23.98,"y":0.93},{"g":"Simulation","x":24.92,"y":0.46},{"g":"Simulation","x":25.78,"y":0.80},{"g":"Simulation","x":26.84,"y":0.88},{"g":"Simulation","x":27.03,"y":0.91},{"g":"Simulation","x":27.14,"y":1.04},{"g":"Simulation","x":27.14,"y":1.10},{"g":"Simulation","x":27.34,"y":0.91},{"g":"Simulation","x":28.01,"y":1.14},{"g":"Simulation","x":27.84,"y":0.74},{"g":"Simulation","x":28.71,"y":0.84},{"g":"Simulation","x":29.22,"y":0.76},{"g":"Simulation","x":29.77,"y":0.64},{"g":"Simulation","x":28.63,"y":0.66}
]
},
"spacing": 22,
"resolve": {"scale": {"x": "independent", "y": "independent", "color": "independent", "shape": "independent"}},
"vconcat": [
{
 "bounds": "flush", "spacing": 0,
 "resolve": {"scale": {"x": "independent", "y": "independent", "color": "independent", "shape": "independent"}},
 "hconcat": [
  {"width": 228, "height": 1, "data": {"values": [{"z": 0}]}, "mark": {"type": "point", "opacity": 0}, "encoding": {}},
  {
   "width": 189, "height": 152,
   "title": {"text": "A", "orient": "bottom", "anchor": "middle", "frame": "group", "dx": -26, "offset": 14},
   "resolve": {"axis": {"x": "independent", "y": "independent"}},
   "layer": [
    {"data": {"name": "A"}, "mark": {"type": "line", "strokeWidth": 2},
     "encoding": {
      "x": {"field": "t", "type": "quantitative", "scale": {"domain": [0, 150]}, "axis": {"orient": "bottom", "values": [0, 50, 100, 150], "tickSize": -4, "labelPadding": 15, "labelFontSize": 18, "labelFlush": false, "domain": true, "title": "Time (min)", "titleFontSize": 18, "titlePadding": 6}},
      "y": {"field": "d", "type": "quantitative", "scale": {"domain": [0, 30], "range": [152, 3]}, "axis": {"orient": "left", "values": [0, 5, 10, 15, 20, 25, 30], "labelExpr": "datum.value % 10 == 0 ? datum.label : ''", "tickSize": -4, "labelPadding": 12, "labelFontSize": 18, "domain": true, "title": "Distance (\u00b5m)", "titleFontSize": 18, "titlePadding": 16}},
      "color": {"field": "s", "type": "nominal", "legend": null, "scale": {"domain": ["a01","a02","a03","a04","a05","a06","a07","a08","a09","a10","a11","a12","a13","a14","a15"], "range": ["#1428e6","#2a4cff","#e01ee0","#8ee848","#b81ee8","#f0a428","#48e4e4","#78f0a0","#4a90ee","#a8f030","#e0186a","#c8f040","#f03848","#8a3ce0","#98f088"]}}
     }},
    {"data": {"values": []}, "mark": "point",
     "encoding": {
      "x": {"field": "t", "type": "quantitative", "scale": {"domain": [0, 150]}, "axis": {"orient": "top", "offset": -3, "values": [0, 50, 100, 150], "labels": false, "tickSize": -4, "domain": true, "title": null}},
      "y": {"field": "d", "type": "quantitative", "scale": {"domain": [0, 30], "range": [152, 3]}, "axis": {"orient": "right", "values": [0, 5, 10, 15, 20, 25, 30], "labels": false, "tickSize": -4, "domain": true, "title": null}}
     }}
   ]
  },
  {"width": 70, "height": 1, "data": {"values": [{"z": 0}]}, "mark": {"type": "point", "opacity": 0}, "encoding": {}},
  {
   "width": 218, "height": 161,
   "view": {"stroke": "#777", "strokeWidth": 1},
   "title": {"text": "B", "orient": "bottom", "anchor": "middle", "frame": "group", "dx": -27, "offset": 14},
   "resolve": {"axis": {"x": "independent", "y": "independent"}},
   "layer": [
    {"data": {"name": "B"}, "mark": {"type": "line", "strokeWidth": 1, "opacity": 0.85},
     "encoding": {
      "x": {"field": "t", "type": "quantitative", "scale": {"domain": [0, 138]}, "axis": {"orient": "bottom", "values": [0, 20, 40, 60, 80, 100, 120], "labelExpr": "datum.value % 40 == 0 ? datum.label : ''", "tickSize": -3, "tickColor": "#777", "labelPadding": 5, "labelFontSize": 14, "labelFlush": false, "domain": false, "title": "Time (min)", "titleFontSize": 20, "titlePadding": 8}},
      "y": {"field": "d", "type": "quantitative", "scale": {"domain": [0, 30]}, "axis": {"orient": "left", "values": [0, 5, 10, 15, 20, 25, 30], "labelExpr": "datum.value % 10 == 0 ? datum.label : ''", "tickSize": -3, "tickColor": "#777", "labelPadding": 6, "labelFontSize": 14, "domain": false, "title": "Distance (\u00b5m)", "titleFontSize": 20, "titlePadding": 10}},
      "color": {"field": "s", "type": "nominal", "legend": null, "scale": {"domain": ["b01","b02","b03","b04","b05","b06","b07","b08","b09","b10","b11","b12","b13","b14","b15","b16","b17","b18","b19","b20","b21","b22","b23","b24","b25","b26","b27","b28","b29","b30"], "range": ["#f08020","#e83030","#a030e0","#e030c0","#f04080","#90f070","#e0e040","#3050f0","#8040f0","#d020f0","#e02050","#60e060","#3040e0","#40d0f0","#f0a040","#d030d0","#a040e0","#70e070","#e04040","#80f080","#3060e0","#c020c0","#2050e0","#f09040","#a0f060","#c0f040","#60e0f0","#f06030","#f0f060","#40e040"]}}
     }},
    {"data": {"values": []}, "mark": "point",
     "encoding": {
      "x": {"field": "t", "type": "quantitative", "scale": {"domain": [0, 138]}, "axis": {"orient": "top", "values": [20, 40, 60, 80, 100, 120], "labels": false, "tickSize": -3, "tickColor": "#777", "domain": false, "title": null}},
      "y": {"field": "d", "type": "quantitative", "scale": {"domain": [0, 30]}, "axis": {"orient": "right", "values": [5, 10, 15, 20, 25], "labels": false, "tickSize": -3, "tickColor": "#777", "domain": false, "title": null}}
     }}
   ]
  }
 ]
},
{
 "bounds": "flush", "spacing": 0,
 "resolve": {"scale": {"x": "independent", "y": "independent", "color": "independent", "shape": "independent"}},
 "hconcat": [
  {
   "width": 220, "height": 205.5,
   "title": {"text": "C", "orient": "bottom", "anchor": "middle", "frame": "group", "dx": 6, "offset": 12},
   "resolve": {"scale": {"x": "independent", "y": "independent"}},
   "layer": [
    {
     "data": {"name": "Cb"},
     "encoding": {
      "x": {"field": "t", "type": "quantitative", "scale": {"domain": [0, 140]}, "axis": {"orient": "bottom", "values": [0, 140], "ticks": false, "domainColor": "#2525d5", "labelColor": "#2525d5", "labelFontSize": 17, "labelPadding": 5, "labelFlush": false, "labelAlign": {"condition": {"test": "datum.value == 0", "value": "center"}, "value": "right"}, "title": "Time (min)", "titleFontSize": 23, "titlePadding": -6}},
      "y": {"field": "d", "type": "quantitative", "scale": {"domain": [0, 30], "range": [205.5, 38.5]}, "axis": {"orient": "left", "values": [0, 30], "ticks": false, "domainColor": "#2525d5", "labelColor": "#2525d5", "labelFontSize": 17, "labelPadding": 2, "title": "Distance (\u00b5m)", "titleFontSize": 23, "titlePadding": 11}}
     },
     "layer": [
      {"transform": [{"filter": "datum.k == 'fit'"}], "mark": {"type": "line", "color": "#444", "strokeWidth": 1, "interpolate": "monotone"}, "encoding": {"detail": {"field": "s", "type": "nominal"}}},
      {"transform": [{"filter": "datum.k != 'fit'"}], "mark": {"type": "line", "strokeWidth": 1.2},
       "encoding": {"color": {"field": "s", "type": "nominal", "scale": {"domain": ["star","circ","sq"], "range": ["#d42a2a","#2525d5","#2525d5"]}, "legend": {"orient": "none", "legendX": -16, "legendY": -27.5, "title": null, "labelFontSize": 14.2, "symbolSize": 30, "symbolStrokeWidth": 1, "rowPadding": 0, "padding": 0, "labelOffset": -2, "labelLimit": 400, "labelColor": "black", "labelExpr": "datum.label == 'star' ? 'd\u2099=\u00a0\u00a0\u00a07.05 \u00b5m , n = 0.55' : datum.label == 'circ' ? 'd\u2099= 15.49 \u00b5m , n = 4.27' : 'd\u2099= 26.36 \u00b5m , n = 0.93'"}}}},
      {"transform": [{"filter": "datum.k == 'obs'"}], "mark": {"type": "point", "filled": false, "size": 28, "strokeWidth": 1},
       "encoding": {
        "color": {"field": "s", "type": "nominal", "scale": {"domain": ["star","circ","sq"], "range": ["#d42a2a","#2525d5","#2525d5"]}, "legend": {"orient": "none", "legendX": -16, "legendY": -27.5, "title": null, "labelFontSize": 14.2, "symbolSize": 30, "symbolStrokeWidth": 1, "rowPadding": 0, "padding": 0, "labelOffset": -2, "labelLimit": 400, "labelColor": "black", "labelExpr": "datum.label == 'star' ? 'd\u2099=\u00a0\u00a0\u00a07.05 \u00b5m , n = 0.55' : datum.label == 'circ' ? 'd\u2099= 15.49 \u00b5m , n = 4.27' : 'd\u2099= 26.36 \u00b5m , n = 0.93'"}},
        "shape": {"field": "s", "type": "nominal", "scale": {"domain": ["star","circ","sq"], "range": ["M0,-1L0,1M-0.87,-0.5L0.87,0.5M-0.87,0.5L0.87,-0.5","circle","square"]}, "legend": {"orient": "none", "legendX": -16, "legendY": -27.5, "title": null, "labelFontSize": 14.2, "symbolSize": 30, "symbolStrokeWidth": 1, "rowPadding": 0, "padding": 0, "labelOffset": -2, "labelLimit": 400, "labelColor": "black", "labelExpr": "datum.label == 'star' ? 'd\u2099=\u00a0\u00a0\u00a07.05 \u00b5m , n = 0.55' : datum.label == 'circ' ? 'd\u2099= 15.49 \u00b5m , n = 4.27' : 'd\u2099= 26.36 \u00b5m , n = 0.93'"}}
       }},
      {"data": {"values": [{"t": 134, "d": 27.8, "txt": "Experiment"}]}, "mark": {"type": "text", "align": "right", "baseline": "middle", "fontSize": 18, "color": "black"}, "encoding": {"text": {"field": "txt", "type": "nominal"}}}
     ]
    },
    {
     "data": {"name": "Cr"},
     "encoding": {
      "x": {"field": "t", "type": "quantitative", "scale": {"domain": [0, 25]}, "axis": {"orient": "top", "offset": -38.5, "values": [0, 25], "ticks": false, "domainColor": "#d42a2a", "labelColor": "#d42a2a", "labelFontSize": 17, "labelPadding": 0, "labelFlush": true, "title": null}},
      "y": {"field": "d", "type": "quantitative", "scale": {"domain": [0, 15], "range": [205.5, 38.5]}, "axis": {"orient": "right", "values": [0, 15], "ticks": false, "domainColor": "#d42a2a", "labelColor": "#d42a2a", "labelFontSize": 17, "labelPadding": 2, "labelBaseline": {"condition": {"test": "datum.value == 0", "value": "middle"}, "value": "top"}, "title": null}}
     },
     "layer": [
      {"transform": [{"filter": "datum.k == 'fit'"}], "mark": {"type": "line", "color": "#444", "strokeWidth": 1, "interpolate": "monotone"}, "encoding": {"detail": {"field": "s", "type": "nominal"}}},
      {"transform": [{"filter": "datum.k != 'fit'"}], "mark": {"type": "line", "strokeWidth": 1.2}, "encoding": {"color": {"field": "s", "type": "nominal", "scale": {"domain": ["star","circ","sq"], "range": ["#d42a2a","#2525d5","#2525d5"]}}}},
      {"transform": [{"filter": "datum.k == 'obs'"}], "mark": {"type": "point", "filled": false, "size": 28, "strokeWidth": 1},
       "encoding": {
        "color": {"field": "s", "type": "nominal", "scale": {"domain": ["star","circ","sq"], "range": ["#d42a2a","#2525d5","#2525d5"]}},
        "shape": {"field": "s", "type": "nominal", "scale": {"domain": ["star","circ","sq"], "range": ["M0,-1L0,1M-0.87,-0.5L0.87,0.5M-0.87,0.5L0.87,-0.5","circle","square"]}}
       }}
     ]
    }
   ]
  },
  {"width": 90.5, "height": 1, "data": {"values": [{"z": 0}]}, "mark": {"type": "point", "opacity": 0}, "encoding": {}},
  {
   "width": 227, "height": 206,
   "title": {"text": "D", "orient": "bottom", "anchor": "middle", "frame": "group", "dx": -1, "offset": 12},
   "resolve": {"scale": {"x": "independent", "y": "independent"}},
   "layer": [
    {
     "data": {"name": "Db"},
     "encoding": {
      "x": {"field": "t", "type": "quantitative", "scale": {"domain": [0, 140]}, "axis": {"orient": "bottom", "values": [0, 140], "ticks": false, "domainColor": "#2525d5", "labelColor": "#2525d5", "labelFontSize": 17, "labelPadding": 4, "labelFlush": true, "title": "Time (min)", "titleFontSize": 23, "titlePadding": -6}},
      "y": {"field": "d", "type": "quantitative", "scale": {"domain": [0, 30], "range": [206, 32.3]}, "axis": {"orient": "left", "values": [0, 30], "ticks": false, "domainColor": "#2525d5", "labelColor": "#2525d5", "labelFontSize": 17, "labelPadding": 2, "labelBaseline": {"condition": {"test": "datum.value == 0", "value": "middle"}, "value": "top"}, "title": "Distance (\u00b5m)", "titleFontSize": 23, "titlePadding": 11}}
     },
     "layer": [
      {"transform": [{"filter": "datum.k == 'fit'"}], "mark": {"type": "line", "color": "#444", "strokeWidth": 1, "interpolate": "monotone"}, "encoding": {"detail": {"field": "s", "type": "nominal"}}},
      {"transform": [{"filter": "datum.k != 'fit'"}], "mark": {"type": "line", "strokeWidth": 1.2},
       "encoding": {"color": {"field": "s", "type": "nominal", "scale": {"domain": ["star","circ","sq"], "range": ["#d42a2a","#d42a2a","#2525d5"]}, "legend": {"orient": "none", "legendX": -16, "legendY": -30.7, "title": null, "labelFontSize": 15, "symbolSize": 30, "symbolStrokeWidth": 1, "rowPadding": -0.5, "padding": 0, "labelOffset": 8, "labelLimit": 400, "labelColor": "black", "labelExpr": "datum.label == 'star' ? 'd\u2099=\u00a0\u00a0\u00a07.03 , n = 0.73' : datum.label == 'circ' ? 'd\u2099= 14.01 , n = 6.19' : 'd\u2099= 24.88 , n = 0.51'"}}}},
      {"transform": [{"filter": "datum.k == 'obs'"}], "mark": {"type": "point", "filled": false, "size": 28, "strokeWidth": 1},
       "encoding": {
        "color": {"field": "s", "type": "nominal", "scale": {"domain": ["star","circ","sq"], "range": ["#d42a2a","#d42a2a","#2525d5"]}, "legend": {"orient": "none", "legendX": -16, "legendY": -30.7, "title": null, "labelFontSize": 15, "symbolSize": 30, "symbolStrokeWidth": 1, "rowPadding": -0.5, "padding": 0, "labelOffset": 8, "labelLimit": 400, "labelColor": "black", "labelExpr": "datum.label == 'star' ? 'd\u2099=\u00a0\u00a0\u00a07.03 , n = 0.73' : datum.label == 'circ' ? 'd\u2099= 14.01 , n = 6.19' : 'd\u2099= 24.88 , n = 0.51'"}},
        "shape": {"field": "s", "type": "nominal", "scale": {"domain": ["star","circ","sq"], "range": ["M0,-1L0,1M-0.87,-0.5L0.87,0.5M-0.87,0.5L0.87,-0.5","circle","square"]}, "legend": {"orient": "none", "legendX": -16, "legendY": -30.7, "title": null, "labelFontSize": 15, "symbolSize": 30, "symbolStrokeWidth": 1, "rowPadding": -0.5, "padding": 0, "labelOffset": 8, "labelLimit": 400, "labelColor": "black", "labelExpr": "datum.label == 'star' ? 'd\u2099=\u00a0\u00a0\u00a07.03 , n = 0.73' : datum.label == 'circ' ? 'd\u2099= 14.01 , n = 6.19' : 'd\u2099= 24.88 , n = 0.51'"}}
       }},
      {"data": {"values": [{"t": 135.4, "d": 27.6, "txt": "Simulation"}]}, "mark": {"type": "text", "align": "right", "baseline": "middle", "fontSize": 18, "color": "black"}, "encoding": {"text": {"field": "txt", "type": "nominal"}}}
     ]
    },
    {
     "data": {"name": "Dr"},
     "encoding": {
      "x": {"field": "t", "type": "quantitative", "scale": {"domain": [0, 25]}, "axis": {"orient": "top", "offset": -32.3, "values": [0, 25], "ticks": false, "domainColor": "#d42a2a", "labelColor": "#d42a2a", "labelFontSize": 17, "labelPadding": 0, "labelFlush": true, "title": null}},
      "y": {"field": "d", "type": "quantitative", "scale": {"domain": [0, 15], "range": [206, 32.3]}, "axis": {"orient": "right", "values": [0, 15], "ticks": false, "domainColor": "#d42a2a", "labelColor": "#d42a2a", "labelFontSize": 17, "labelPadding": 2, "labelBaseline": {"condition": {"test": "datum.value == 0", "value": "middle"}, "value": "top"}, "title": null}}
     },
     "layer": [
      {"transform": [{"filter": "datum.k == 'fit'"}], "mark": {"type": "line", "color": "#444", "strokeWidth": 1, "interpolate": "monotone"}, "encoding": {"detail": {"field": "s", "type": "nominal"}}},
      {"transform": [{"filter": "datum.k != 'fit'"}], "mark": {"type": "line", "strokeWidth": 1.2}, "encoding": {"color": {"field": "s", "type": "nominal", "scale": {"domain": ["star","circ","sq"], "range": ["#d42a2a","#d42a2a","#2525d5"]}}}},
      {"transform": [{"filter": "datum.k == 'obs'"}], "mark": {"type": "point", "filled": false, "size": 28, "strokeWidth": 1},
       "encoding": {
        "color": {"field": "s", "type": "nominal", "scale": {"domain": ["star","circ","sq"], "range": ["#d42a2a","#d42a2a","#2525d5"]}},
        "shape": {"field": "s", "type": "nominal", "scale": {"domain": ["star","circ","sq"], "range": ["M0,-1L0,1M-0.87,-0.5L0.87,0.5M-0.87,0.5L0.87,-0.5","circle","square"]}}
       }}
     ]
    }
   ]
  },
  {"width": 84.2, "height": 1, "data": {"values": [{"z": 0}]}, "mark": {"type": "point", "opacity": 0}, "encoding": {}},
  {
   "width": 256, "height": 203,
   "view": {"stroke": "#444", "strokeWidth": 1},
   "title": {"text": "E", "orient": "bottom", "anchor": "middle", "frame": "group", "dx": 67, "offset": 12},
   "resolve": {"axis": {"x": "independent", "y": "independent"}},
   "layer": [
    {"data": {"name": "E"}, "mark": {"type": "point", "filled": false, "size": 26, "strokeWidth": 1},
     "encoding": {
      "x": {"field": "x", "type": "quantitative", "scale": {"domain": [0, 30]}, "axis": {"orient": "bottom", "values": [0, 15, 30], "tickSize": -5, "tickColor": "#444", "labelPadding": 10, "labelFontSize": 18, "labelFlush": false, "domain": false, "title": "d\u2099 (\u00b5m)", "titleFontSize": 23, "titlePadding": -2}},
      "y": {"field": "y", "type": "quantitative", "scale": {"domain": [0, 8]}, "axis": {"orient": "left", "values": [0, 4, 8], "tickSize": -5, "tickColor": "#444", "labelPadding": 7, "labelFontSize": 18, "domain": false, "title": "Cooperativity coeff. (n)", "titleFontSize": 21, "titlePadding": 9}},
      "color": {"field": "g", "type": "nominal", "scale": {"domain": ["Experiment", "Simulation"], "range": ["#2a2ad8", "#d03030"]}, "legend": {"orient": "none", "legendX": 9, "legendY": 9, "title": null, "labelFontSize": 12, "symbolSize": 22, "symbolStrokeWidth": 1, "strokeColor": "#444", "fillColor": "white", "padding": 5, "rowPadding": 1, "labelOffset": 4, "labelColor": {"expr": "datum.value == 'Experiment' ? '#2a2ad8' : '#d03030'"}}}
     }},
    {"data": {"values": []}, "mark": "point",
     "encoding": {
      "x": {"field": "x", "type": "quantitative", "scale": {"domain": [0, 30]}, "axis": {"orient": "top", "values": [15], "labels": false, "tickSize": -5, "tickColor": "#444", "domain": false, "title": null}},
      "y": {"field": "y", "type": "quantitative", "scale": {"domain": [0, 8]}, "axis": {"orient": "right", "values": [4], "labels": false, "tickSize": -5, "tickColor": "#444", "domain": false, "title": null}}
     }}
   ]
  }
 ]
}
]
}
